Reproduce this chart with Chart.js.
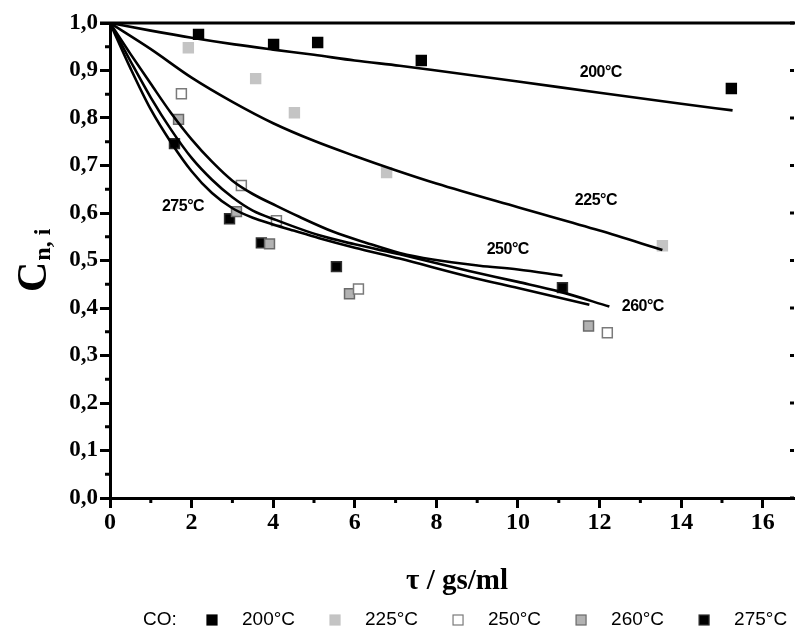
<!DOCTYPE html>
<html>
<head>
<meta charset="utf-8">
<title>CO conversion vs residence time</title>
<script src="https://cdn.jsdelivr.net/npm/chart.js@4.4.1/dist/chart.umd.min.js"></script>
<style>
  html, body { margin: 0; padding: 0; background: #fff; }
  canvas { display: block; }
</style>
</head>
<body>
<canvas id="convChart" width="795" height="633"></canvas>
<script>
// Measured points: residence time (gs/ml) and C_n,i
const tau200 = [2.17, 4.01, 5.09, 7.63, 15.23];
const conv200 = [0.976, 0.955, 0.959, 0.921, 0.862];
const tau225 = [1.92, 3.57, 4.52, 6.78, 13.54];
const conv225 = [0.948, 0.883, 0.811, 0.685, 0.531];
const tau250 = [1.75, 3.22, 4.08, 6.09, 12.19];
const conv250 = [0.851, 0.658, 0.584, 0.440, 0.348];
const tau260 = [1.68, 3.10, 3.91, 5.87, 11.73];
const conv260 = [0.797, 0.603, 0.535, 0.430, 0.362];
const tau275 = [1.58, 2.93, 3.71, 5.55, 11.09];
const conv275 = [0.746, 0.588, 0.537, 0.487, 0.443];

// Model curves
const fitTau200 = [0, 1, 2, 3.05, 4, 5, 6, 7.1, 8, 10, 12, 14, 15.26];
const fitC200 = [1.0, 0.984, 0.969, 0.955, 0.944, 0.933, 0.921, 0.910, 0.900, 0.877, 0.853, 0.830, 0.816];
const fitTau225 = [0, 1, 2, 3, 4, 5, 6, 7, 8, 10, 12, 13.54];
const fitC225 = [1.0, 0.945, 0.885, 0.834, 0.789, 0.752, 0.720, 0.690, 0.662, 0.612, 0.563, 0.522];
const fitTau250 = [0, 0.5, 1, 1.5, 2, 2.5, 3, 3.5, 4.08, 4.64, 5.46, 6.29, 7.1, 7.91, 9.06, 10, 11.09];
const fitC250 = [1.0, 0.935, 0.872, 0.810, 0.755, 0.708, 0.668, 0.640, 0.615, 0.592, 0.561, 0.537, 0.516, 0.502, 0.489, 0.481, 0.468];
const fitTau260 = [0, 0.5, 1, 1.5, 2, 2.5, 3, 3.5, 4.08, 5.13, 6, 7.1, 8.8, 10, 11, 12.24];
const fitC260 = [1.0, 0.920, 0.843, 0.775, 0.716, 0.670, 0.633, 0.605, 0.585, 0.553, 0.534, 0.513, 0.478, 0.455, 0.435, 0.403];
const fitTau275 = [0, 0.5, 1, 1.5, 2, 2.5, 3, 3.5, 4, 4.5, 5.13, 6, 7.1, 8.8, 10, 11.75];
const fitC275 = [1.0, 0.905, 0.818, 0.748, 0.688, 0.642, 0.610, 0.590, 0.576, 0.563, 0.547, 0.527, 0.504, 0.466, 0.442, 0.407];

// Axis ticks
const xMajor = [0, 2, 4, 6, 8, 10, 12, 14, 16];
const xMinor = [1, 3, 5, 7, 9, 11, 13, 15];
const yMajor = [0, 0.1, 0.2, 0.3, 0.4, 0.5, 0.6, 0.7, 0.8, 0.9, 1.0];
const yMinor = [0.05, 0.15, 0.25, 0.35, 0.45, 0.55, 0.65, 0.75, 0.85, 0.95];

// Series names
const seriesNames = ['200°C', '225°C', '250°C', '260°C', '275°C'];

// Curve labels inside the plot (data coordinates)
const curveLabels = [
  { text: '200°C', x: 12.03, y: 0.896 },
  { text: '225°C', x: 11.91, y: 0.627 },
  { text: '250°C', x: 9.75, y: 0.524 },
  { text: '260°C', x: 13.06, y: 0.402 },
  { text: '275°C', x: 1.79, y: 0.613 }
];

const serif = '"Liberation Serif", "Times New Roman", serif';
const sans = '"Liberation Sans", Arial, sans-serif';

function toPoints(xs, ys) {
  return xs.map((x, i) => ({ x: x, y: ys[i] }));
}

// Marker styles per series
const markerFill = ['#000000', '#c4c4c4', '#ffffff', '#b2b2b2', '#000000'];
const markerBorder = ['#000000', '#c4c4c4', '#7a7a7a', '#6a6a6a', '#303030'];

const pointSets = [
  toPoints(tau200, conv200),
  toPoints(tau225, conv225),
  toPoints(tau250, conv250),
  toPoints(tau260, conv260),
  toPoints(tau275, conv275)
];
const curveSets = [
  toPoints(fitTau200, fitC200),
  toPoints(fitTau225, fitC225),
  toPoints(fitTau250, fitC250),
  toPoints(fitTau260, fitC260),
  toPoints(fitTau275, fitC275)
];

const datasets = [];
pointSets.forEach((pts, i) => {
  datasets.push({
    type: 'scatter',
    label: seriesNames[i],
    data: pts,
    pointStyle: 'rect',
    pointRadius: 7,
    pointBorderWidth: 1.5,
    backgroundColor: markerFill[i],
    borderColor: markerBorder[i],
    order: 2
  });
});
curveSets.forEach((pts, i) => {
  datasets.push({
    type: 'line',
    label: 'fit ' + seriesNames[i],
    data: pts,
    borderColor: '#000',
    borderWidth: 2.6,
    pointRadius: 0,
    fill: false,
    cubicInterpolationMode: 'monotone',
    order: 1
  });
});

// Minor ticks, top frame line and right ticks
const framePlugin = {
  id: 'frame',
  afterDraw(chart) {
    const { ctx, chartArea, scales: { x, y } } = chart;
    ctx.save();
    ctx.strokeStyle = '#000';
    ctx.lineWidth = 3;
    // top line
    ctx.beginPath();
    ctx.moveTo(chartArea.left - 10, chartArea.top);
    ctx.lineTo(chart.width, chartArea.top);
    ctx.stroke();
    // minor ticks
    yMinor.forEach(v => {
      const py = y.getPixelForValue(v);
      ctx.beginPath();
      ctx.moveTo(x.left - 5, py);
      ctx.lineTo(x.left, py);
      ctx.stroke();
    });
    xMinor.forEach(v => {
      const px = x.getPixelForValue(v);
      ctx.beginPath();
      ctx.moveTo(px, y.bottom);
      ctx.lineTo(px, y.bottom + 5);
      ctx.stroke();
    });
    // inward ticks of the right axis (axis itself lies just off the picture)
    yMajor.forEach(v => {
      const py = y.getPixelForValue(v);
      ctx.beginPath();
      ctx.moveTo(chart.width - 5, py);
      ctx.lineTo(chart.width - 1, py);
      ctx.stroke();
    });
    ctx.restore();
  }
};

// Curve labels, axis titles and legend
const textPlugin = {
  id: 'texts',
  afterDraw(chart) {
    const { ctx, scales: { x, y } } = chart;
    ctx.save();
    ctx.fillStyle = '#000';

    // curve labels
    ctx.font = 'bold 16px ' + sans;
    ctx.letterSpacing = '-0.5px';
    ctx.textAlign = 'center';
    ctx.textBaseline = 'middle';
    curveLabels.forEach(l => {
      ctx.fillText(l.text, x.getPixelForValue(l.x), y.getPixelForValue(l.y));
    });
    ctx.letterSpacing = '0px';

    // x title
    ctx.font = 'bold 29px ' + serif;
    ctx.textBaseline = 'alphabetic';
    ctx.fillText('τ / gs/ml', 457, 589);

    // y title: C with subscript n, i
    ctx.translate(46, 292);
    ctx.rotate(-Math.PI / 2);
    ctx.textAlign = 'left';
    ctx.font = 'bold 42px ' + serif;
    ctx.fillText('C', 0, 0);
    const cw = ctx.measureText('C').width;
    ctx.font = 'bold 24px ' + serif;
    ctx.fillText('n, i', cw + 1, 4);
    ctx.setTransform(1, 0, 0, 1, 0, 0);

    // legend
    const ly = 620;
    ctx.font = '19px ' + sans;
    ctx.textBaseline = 'middle';
    ctx.textAlign = 'left';
    ctx.fillText('CO:', 143, ly);
    let mx = 212;
    pointSets.forEach((_, i) => {
      ctx.fillStyle = markerFill[i];
      ctx.strokeStyle = markerBorder[i];
      ctx.lineWidth = 1.2;
      ctx.fillRect(mx - 5, ly - 5, 10, 10);
      ctx.strokeRect(mx - 5, ly - 5, 10, 10);
      ctx.fillStyle = '#000';
      ctx.fillText(seriesNames[i], mx + 30, ly);
      mx += 30 + ctx.measureText(seriesNames[i]).width + 40;
    });
    ctx.restore();
  }
};

function formatComma(v) {
  return v.toFixed(1).replace('.', ',');
}

new Chart(document.getElementById('convChart'), {
  data: { datasets: datasets },
  options: {
    responsive: false,
    animation: false,
    layout: { autoPadding: false, padding: { top: 23, right: 0, left: 0, bottom: 0 } },
    plugins: {
      legend: { display: false },
      tooltip: { enabled: false }
    },
    scales: {
      x: {
        type: 'linear',
        min: 0,
        max: 16.79,
        afterFit: s => { s.height = 135; s.paddingRight = 0; s.paddingLeft = 0; },
        border: { display: true, color: '#000', width: 3 },
        grid: { drawOnChartArea: false, drawTicks: true, tickLength: 10, tickWidth: 3, tickColor: '#000' },
        afterBuildTicks: s => { s.ticks = xMajor.map(v => ({ value: v })); },
        ticks: {
          autoSkip: false,
          maxRotation: 0,
          padding: 0,
          color: '#000',
          font: { family: serif, size: 24, weight: 'bold' },
          callback: v => String(v)
        }
      },
      y: {
        type: 'linear',
        min: 0,
        max: 1,
        afterFit: s => { s.width = 110; s.paddingTop = 0; s.paddingBottom = 0; },
        border: { display: true, color: '#000', width: 3 },
        grid: { drawOnChartArea: false, drawTicks: true, tickLength: 10, tickWidth: 3, tickColor: '#000' },
        afterBuildTicks: s => { s.ticks = yMajor.map(v => ({ value: v })); },
        ticks: {
          autoSkip: false,
          padding: 2,
          color: '#000',
          font: { family: serif, size: 23, weight: 'bold' },
          callback: v => formatComma(v)
        }
      }
    }
  },
  plugins: [framePlugin, textPlugin]
});
</script>
</body>
</html>
